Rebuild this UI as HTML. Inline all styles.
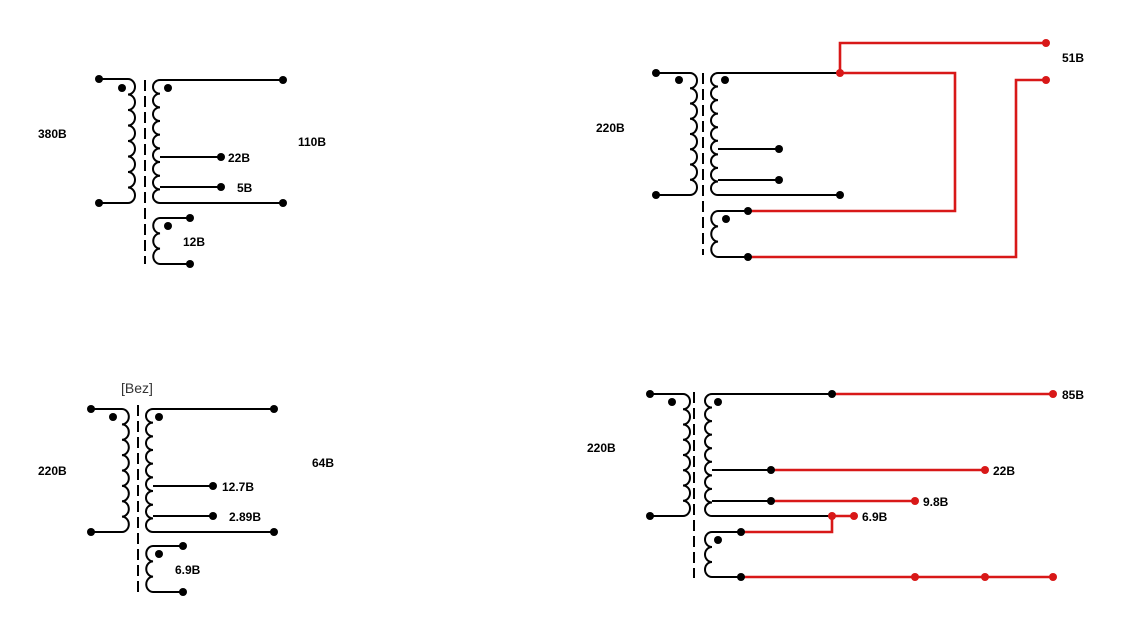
<!DOCTYPE html>
<html><head><meta charset="utf-8"><style>
html,body{margin:0;padding:0;background:#fff;}
svg{display:block;}
text{font-family:"Liberation Sans",Arial,sans-serif;font-size:12px;font-weight:bold;fill:#000;}
.k{fill:none;stroke:#000;stroke-width:2;}
.r{fill:none;stroke:#d81818;stroke-width:2.6;}
.c{stroke:#000;stroke-width:2;stroke-dasharray:11,5;}
circle{r:4px;}
</style></head><body>
<svg width="1122" height="635" viewBox="0 0 1122 635" xmlns="http://www.w3.org/2000/svg">
<!-- TL -->
<path class="k" d="M99,79 H128 a7,7.75 0 0 1 0,15.5 a7,7.75 0 0 1 0,15.5 a7,7.75 0 0 1 0,15.5 a7,7.75 0 0 1 0,15.5 a7,7.75 0 0 1 0,15.5 a7,7.75 0 0 1 0,15.5 a7,7.75 0 0 1 0,15.5 a7,7.75 0 0 1 0,15.5 H99"/>
<line class="c" x1="145" y1="80" x2="145" y2="264"/>
<path class="k" d="M283,80 H160 a7,6.83 0 0 0 0,13.67 a7,6.83 0 0 0 0,13.67 a7,6.83 0 0 0 0,13.67 a7,6.83 0 0 0 0,13.67 a7,6.83 0 0 0 0,13.67 a7,6.83 0 0 0 0,13.67 a7,6.83 0 0 0 0,13.67 a7,6.83 0 0 0 0,13.67 a7,6.83 0 0 0 0,13.67 H283 M160,157 H221 M160,187 H221"/>
<path class="k" d="M190,218 H160 a7,7.67 0 0 0 0,15.33 a7,7.67 0 0 0 0,15.33 a7,7.67 0 0 0 0,15.33 H190"/>
<g fill="#000"><circle cx="99" cy="79" r="4"/><circle cx="99" cy="203" r="4"/><circle cx="122" cy="88" r="4"/><circle cx="168" cy="88" r="4"/><circle cx="283" cy="80" r="4"/><circle cx="283" cy="203" r="4"/><circle cx="221" cy="157" r="4"/><circle cx="221" cy="187" r="4"/><circle cx="190" cy="218" r="4"/><circle cx="190" cy="264" r="4"/><circle cx="168" cy="226" r="4"/></g>
<text x="38" y="138">380B</text><text x="298" y="146">110B</text><text x="228" y="162">22B</text><text x="237" y="192">5B</text><text x="183" y="246">12B</text>

<!-- TR -->
<path class="k" d="M656,73 H690 a7,7.625 0 0 1 0,15.25 a7,7.625 0 0 1 0,15.25 a7,7.625 0 0 1 0,15.25 a7,7.625 0 0 1 0,15.25 a7,7.625 0 0 1 0,15.25 a7,7.625 0 0 1 0,15.25 a7,7.625 0 0 1 0,15.25 a7,7.625 0 0 1 0,15.25 H656"/>
<line class="c" x1="703" y1="73" x2="703" y2="255"/>
<path class="k" d="M840,73 H718 a7,6.78 0 0 0 0,13.56 a7,6.78 0 0 0 0,13.56 a7,6.78 0 0 0 0,13.56 a7,6.78 0 0 0 0,13.56 a7,6.78 0 0 0 0,13.56 a7,6.78 0 0 0 0,13.56 a7,6.78 0 0 0 0,13.56 a7,6.78 0 0 0 0,13.56 a7,6.78 0 0 0 0,13.56 H840 M718,149 H779 M718,180 H779"/>
<path class="k" d="M748,211 H718 a7,7.67 0 0 0 0,15.33 a7,7.67 0 0 0 0,15.33 a7,7.67 0 0 0 0,15.33 H748"/>
<path class="r" d="M840,73 V43 H1046 M840,73 H955 V211 H748 M748,257 H1016 V80 H1046"/>
<g fill="#000"><circle cx="656" cy="73" r="4"/><circle cx="656" cy="195" r="4"/><circle cx="679" cy="80" r="4"/><circle cx="725" cy="80" r="4"/><circle cx="779" cy="149" r="4"/><circle cx="779" cy="180" r="4"/><circle cx="840" cy="195" r="4"/><circle cx="748" cy="211" r="4"/><circle cx="748" cy="257" r="4"/><circle cx="726" cy="219" r="4"/></g>
<g fill="#d81818"><circle cx="840" cy="73" r="4"/><circle cx="1046" cy="43" r="4"/><circle cx="1046" cy="80" r="4"/></g>
<text x="596" y="132">220B</text><text x="1062" y="62">51B</text>

<!-- BL -->
<path class="k" d="M91,409 H122 a7,7.69 0 0 1 0,15.375 a7,7.69 0 0 1 0,15.375 a7,7.69 0 0 1 0,15.375 a7,7.69 0 0 1 0,15.375 a7,7.69 0 0 1 0,15.375 a7,7.69 0 0 1 0,15.375 a7,7.69 0 0 1 0,15.375 a7,7.69 0 0 1 0,15.375 H91"/>
<line class="c" x1="138" y1="405" x2="138" y2="592"/>
<path class="k" d="M274,409 H153 a7,6.83 0 0 0 0,13.67 a7,6.83 0 0 0 0,13.67 a7,6.83 0 0 0 0,13.67 a7,6.83 0 0 0 0,13.67 a7,6.83 0 0 0 0,13.67 a7,6.83 0 0 0 0,13.67 a7,6.83 0 0 0 0,13.67 a7,6.83 0 0 0 0,13.67 a7,6.83 0 0 0 0,13.67 H274 M153,486 H213 M153,516 H213"/>
<path class="k" d="M183,546 H153 a7,7.67 0 0 0 0,15.33 a7,7.67 0 0 0 0,15.33 a7,7.67 0 0 0 0,15.33 H183"/>
<g fill="#000"><circle cx="91" cy="409" r="4"/><circle cx="91" cy="532" r="4"/><circle cx="113" cy="417" r="4"/><circle cx="159" cy="417" r="4"/><circle cx="274" cy="409" r="4"/><circle cx="274" cy="532" r="4"/><circle cx="213" cy="486" r="4"/><circle cx="213" cy="516" r="4"/><circle cx="183" cy="546" r="4"/><circle cx="183" cy="592" r="4"/><circle cx="159" cy="554" r="4"/></g>
<text x="121" y="393" style="font-weight:normal;font-size:14px;fill:#333">[Bez]</text>
<text x="38" y="475">220B</text><text x="312" y="467">64B</text><text x="222" y="491">12.7B</text><text x="229" y="521">2.89B</text><text x="175" y="574">6.9B</text>

<!-- BR -->
<path class="k" d="M650,394 H683 a7,7.625 0 0 1 0,15.25 a7,7.625 0 0 1 0,15.25 a7,7.625 0 0 1 0,15.25 a7,7.625 0 0 1 0,15.25 a7,7.625 0 0 1 0,15.25 a7,7.625 0 0 1 0,15.25 a7,7.625 0 0 1 0,15.25 a7,7.625 0 0 1 0,15.25 H650"/>
<line class="c" x1="694" y1="392" x2="694" y2="578"/>
<path class="k" d="M832,394 H712 a7,6.78 0 0 0 0,13.56 a7,6.78 0 0 0 0,13.56 a7,6.78 0 0 0 0,13.56 a7,6.78 0 0 0 0,13.56 a7,6.78 0 0 0 0,13.56 a7,6.78 0 0 0 0,13.56 a7,6.78 0 0 0 0,13.56 a7,6.78 0 0 0 0,13.56 a7,6.78 0 0 0 0,13.56 H832 M712,470 H771 M712,501 H771"/>
<path class="k" d="M741,532 H712 a7,7.5 0 0 0 0,15 a7,7.5 0 0 0 0,15 a7,7.5 0 0 0 0,15 H741"/>
<path class="r" d="M832,394 H1053 M771,470 H985 M771,501 H915 M832,516 H854 M832,516 V532 H741 M741,577 H1053"/>
<g fill="#000"><circle cx="650" cy="394" r="4"/><circle cx="650" cy="516" r="4"/><circle cx="672" cy="402" r="4"/><circle cx="718" cy="402" r="4"/><circle cx="832" cy="394" r="4"/><circle cx="771" cy="470" r="4"/><circle cx="771" cy="501" r="4"/><circle cx="741" cy="532" r="4"/><circle cx="741" cy="577" r="4"/><circle cx="718" cy="540" r="4"/></g>
<g fill="#d81818"><circle cx="1053" cy="394" r="4"/><circle cx="985" cy="470" r="4"/><circle cx="915" cy="501" r="4"/><circle cx="832" cy="516" r="4"/><circle cx="854" cy="516" r="4"/><circle cx="915" cy="577" r="4"/><circle cx="985" cy="577" r="4"/><circle cx="1053" cy="577" r="4"/></g>
<text x="587" y="452">220B</text><text x="1062" y="399">85B</text><text x="993" y="475">22B</text><text x="923" y="506">9.8B</text><text x="862" y="521">6.9B</text>
</svg>
</body></html>
